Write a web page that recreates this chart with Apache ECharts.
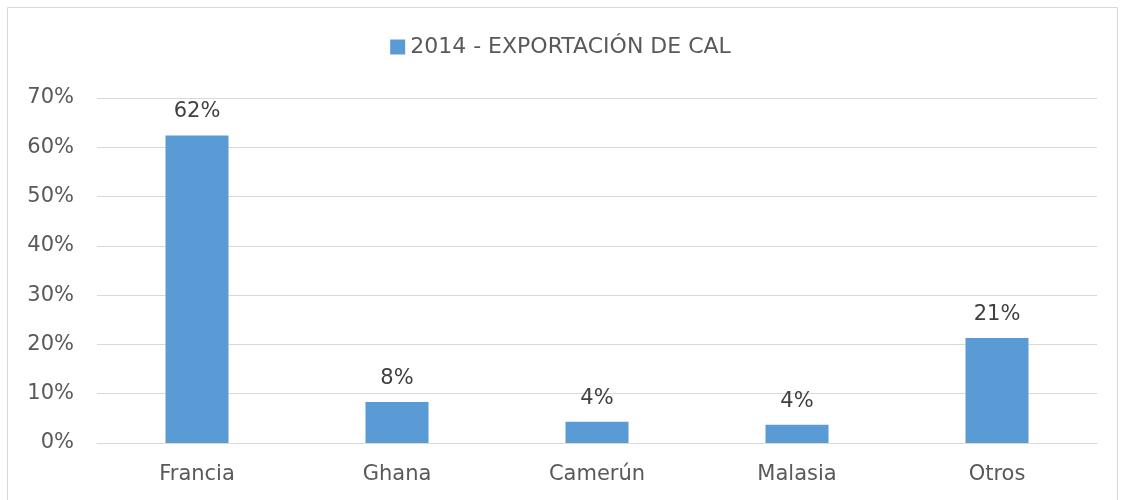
<!DOCTYPE html>
<html>
<head>
<meta charset="utf-8">
<script src="https://cdn.jsdelivr.net/npm/echarts@6/dist/echarts.min.js"></script>
<style>
  html, body { margin: 0; padding: 0; background: #fff; }
  #chart { width: 1121px; height: 500px; }
</style>
</head>
<body>
<div id="chart"></div>
<script>
var countries = ['Francia', 'Ghana', 'Camerún', 'Malasia', 'Otros'];
var shares = [62.4, 8.3, 4.3, 3.7, 21.3];
var shareLabels = ['62%', '8%', '4%', '4%', '21%'];
var seriesName = '2014 - EXPORTACIÓN DE CAL';

var font = 'DejaVu Sans';
var textColor = '#595959';

var myChart = echarts.init(document.getElementById('chart'));
myChart.setOption({
    animation: false,
    textStyle: { fontFamily: font, color: textColor },
    graphic: [{
        type: 'rect',
        shape: { x: 7.5, y: 7.5, width: 1110, height: 500 },
        style: { fill: 'none', stroke: '#d9d9d9', lineWidth: 1 }
    }],
    legend: {
        top: 31,
        left: 'center',
        itemWidth: 15,
        itemHeight: 15,
        itemGap: 6,
        icon: 'rect',
        textStyle: { fontFamily: font, fontSize: 22, color: textColor },
        data: [seriesName]
    },
    grid: { left: 97, right: 24, top: 98, bottom: 57 },
    xAxis: {
        type: 'category',
        data: countries,
        axisTick: { show: false },
        axisLine: { lineStyle: { color: '#d9d9d9' } },
        axisLabel: { fontFamily: font, fontSize: 21, color: textColor, margin: 21 }
    },
    yAxis: {
        type: 'value',
        min: 0,
        max: 70,
        interval: 10,
        axisLine: { show: false },
        axisTick: { show: false },
        splitLine: { lineStyle: { color: '#d9d9d9' } },
        axisLabel: {
            fontFamily: font, fontSize: 21, color: textColor, margin: 23,
            formatter: '{value}%'
        }
    },
    series: [{
        name: seriesName,
        type: 'bar',
        data: shares,
        barWidth: 63,
        itemStyle: { color: '#5b9bd5' },
        label: {
            show: true,
            position: 'top',
            distance: 13,
            fontFamily: font,
            fontSize: 21,
            color: '#404040',
            formatter: function (p) { return shareLabels[p.dataIndex]; }
        }
    }]
});
</script>
</body>
</html>
